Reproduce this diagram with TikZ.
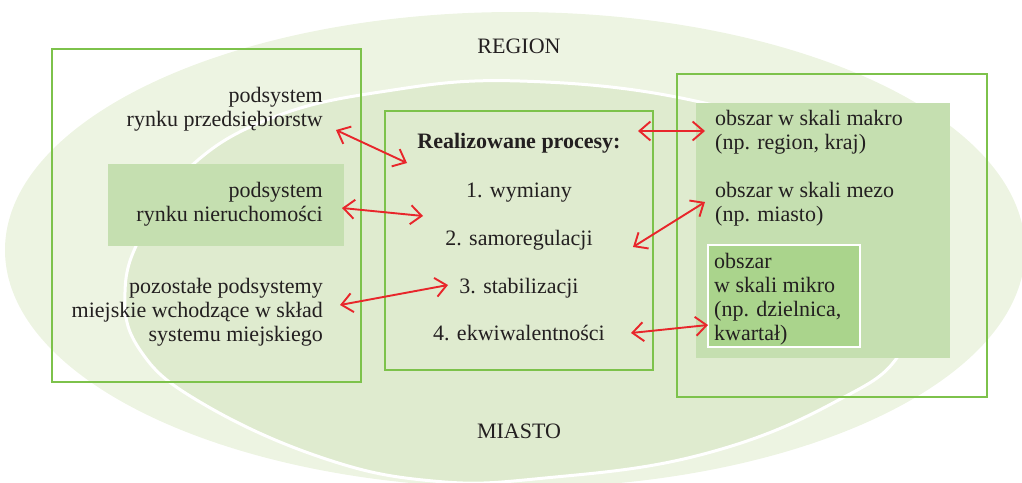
\documentclass[tikz,border=0pt]{standalone}
\usepackage{fontspec}
\setmainfont{Liberation Serif}
\usetikzlibrary{arrows.meta}
\definecolor{outerell}{HTML}{EDF4E2}
\definecolor{innerell}{HTML}{DFEBCF}
\definecolor{fillbox}{HTML}{C5DFB0}
\definecolor{mikrobox}{HTML}{AAD48C}
\definecolor{gline}{HTML}{7DC24B}
\definecolor{redarr}{HTML}{E8262B}
\definecolor{txt}{HTML}{231F20}
\tikzset{
  gbox/.style={draw=gline, line width=2.2pt, inner sep=0pt},
  fbox/.style={fill=fillbox, draw=none, inner sep=0pt},
  mbox/.style={fill=mikrobox, draw=white, line width=2.5pt, inner sep=0pt},
  basefont/.style={font=\fontsize{22}{24}\selectfont},
  txtL/.style={basefont, text=txt, inner sep=0pt, align=right, anchor=north east},
  txtR/.style={basefont, text=txt, inner sep=0pt, align=left, anchor=north west},
  txtC/.style={basefont, text=txt, inner sep=0pt, anchor=base},
  dbl/.style={draw=redarr, line width=1.9pt, {Straight Barb[length=11pt,width=19pt]}-{Straight Barb[length=11pt,width=19pt]}},
}
\begin{document}
\begin{tikzpicture}[x=1pt,y=-1pt]
\useasboundingbox (0,0) rectangle (1022,482);
\begin{scope}
\clip (0,0) rectangle (1022,482);
\fill[outerell] (515,250) ellipse [x radius=510, y radius=238];
\filldraw[fill=innerell, draw=white, line width=3pt] plot[smooth cycle, tension=0.7] coordinates {
  (125,292) (143,232) (190,167) (269,119) (380,92) (520,81) (700,102)
  (850,155) (925,240) (905,345) (833,403) (700,455) (545,478) (433,481)
  (320,457) (200,402) (140,350)};
\end{scope}
% boxes
\node[fbox, minimum width=236pt, minimum height=82pt] (nbox) at (226,205) {};
\node[gbox, minimum width=309pt, minimum height=333pt] (leftbox) at (206.5,215.5) {};
\node[gbox, minimum width=268pt, minimum height=259pt] (centerbox) at (519,240.5) {};
\node[fbox, minimum width=254pt, minimum height=255pt] (makrobox) at (823,230.5) {};
\node[gbox, minimum width=310pt, minimum height=323pt] (rightbox) at (832,235.5) {};
\node[mbox, minimum width=152pt, minimum height=102pt] (mikro) at (784,296) {};
% labels
\node[txtC] (region) at (519,53) {REGION};
\node[txtC] (miasto) at (519,438) {MIASTO};
% left texts
\node[txtL] (ps1) at (323,85.2) {\strut podsystem\\rynku przedsiębiorstw};
\node[txtL] (ps2) at (323,180.2) {\strut podsystem\\rynku nieruchomości};
\node[txtL] (ps3) at (323,276.2) {\strut pozostałe podsystemy\\miejskie wchodzące w skład\\systemu miejskiego};
% center texts
\node[txtC, font=\fontsize{22}{24}\selectfont\bfseries] (title) at (519,148) {Realizowane procesy:};
\node[txtC] (p1) at (519,197) {1. wymiany};
\node[txtC] (p2) at (519,245) {2. samoregulacji};
\node[txtC] (p3) at (519,293) {3. stabilizacji};
\node[txtC] (p4) at (519,340) {4. ekwiwalentności};
% right texts
\node[txtR] (mak) at (715,108.2) {\strut obszar w skali makro\\(np. region, kraj)};
\node[txtR] (mez) at (715,180.2) {\strut obszar w skali mezo\\(np. miasto)};
\node[txtR] (mik) at (714,251.2) {\strut obszar\\w skali mikro\\(np. dzielnica,\\kwartał)};
% arrow end points
\coordinate (a1s) at (336,130); \coordinate (a1e) at (407,163);
\coordinate (a2s) at (342,208); \coordinate (a2e) at (423,216);
\coordinate (a3s) at (340,305); \coordinate (a3e) at (448,285);
\coordinate (a4s) at (638,131); \coordinate (a4e) at (705,131);
\coordinate (a5s) at (633,247); \coordinate (a5e) at (705,202);
\coordinate (a6s) at (631,333); \coordinate (a6e) at (708,325);
\draw[dbl] (a1s) -- (a1e);
\draw[dbl] (a2s) -- (a2e);
\draw[dbl] (a3s) -- (a3e);
\draw[dbl] (a4s) -- (a4e);
\draw[dbl] (a5s) -- (a5e);
\draw[dbl] (a6s) -- (a6e);
\end{tikzpicture}
\end{document}
